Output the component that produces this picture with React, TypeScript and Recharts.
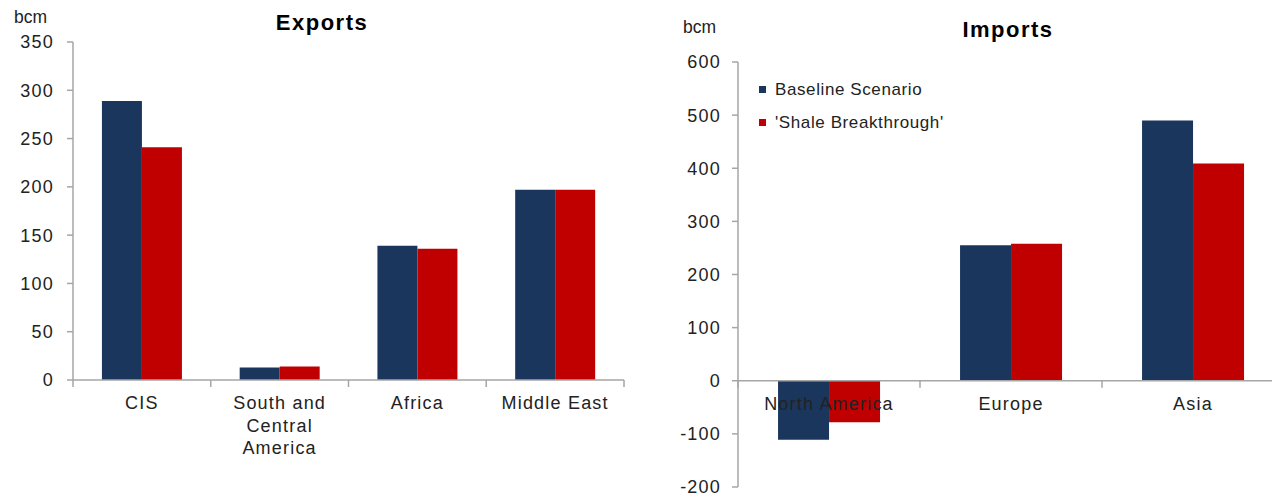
import { BarChart, Bar, XAxis, YAxis, Legend, ReferenceLine } from "recharts";

// Gas trade by region, bcm
const exportRegions = ["CIS", "South and\nCentral\nAmerica", "Africa", "Middle East"];
const exportBaseline = [289, 13, 139, 197];
const exportShale = [241, 14, 136, 197];
const exportTicks = [0, 50, 100, 150, 200, 250, 300, 350];

const importRegions = ["North America", "Europe", "Asia"];
const importBaseline = [-111, 255, 490];
const importShale = [-78, 258, 409];
const importTicks = [-200, -100, 0, 100, 200, 300, 400, 500, 600];

const seriesNames = ["Baseline Scenario", "'Shale Breakthrough'"];

const NAVY = "#1b365d";
const RED = "#c00000";
const AXIS = "#a6a6a6";
const INK = "#222";
const FONT = "'Liberation Sans', Arial, sans-serif";

const exportData = exportRegions.map((region, i) => ({
  region,
  baseline: exportBaseline[i],
  shale: exportShale[i],
}));

const importData = importRegions.map((region, i) => ({
  region,
  baseline: importBaseline[i],
  shale: importShale[i],
}));

const tickStyle = { fill: INK, fontSize: 18, fontFamily: FONT, letterSpacing: 1.2 };

// category label plus the small marks at band edges, hung from the zero line
function CategoryTick(props: any) {
  const { x, payload, index, axisY, band, count } = props;
  const lines = String(payload.value).split("\n");
  const left = x - band / 2;
  return (
    <g>
      <line x1={left} x2={left} y1={axisY} y2={axisY + 7} stroke={AXIS} strokeWidth={1.5} />
      {index === count - 1 && (
        <line x1={left + band} x2={left + band} y1={axisY} y2={axisY + 7} stroke={AXIS} strokeWidth={1.5} />
      )}
      <text x={x} y={axisY + 29} textAnchor="middle" {...tickStyle}>
        {lines.map((line, i) => (
          <tspan key={i} x={x} dy={i ? 22.5 : 0}>
            {line}
          </tspan>
        ))}
      </text>
    </g>
  );
}

function LegendBox({ payload }: any) {
  const items = [...(payload || [])].sort(
    (a: any, b: any) => seriesNames.indexOf(a.value) - seriesNames.indexOf(b.value)
  );
  return (
    <div style={{ fontFamily: FONT, fontSize: 17, color: INK, letterSpacing: 0.6 }}>
      {items.map((item: any) => (
        <div key={item.value} style={{ height: 33, display: "flex", alignItems: "center", whiteSpace: "nowrap" }}>
          <span style={{ width: 7, height: 7, background: item.color, marginRight: 9, display: "inline-block" }} />
          <span>{item.value}</span>
        </div>
      ))}
    </div>
  );
}

// left panel geometry
const EX = { w: 640, h: 494, top: 42, bottom: 54, right: 16, yAxisW: 73, xAxisH: 60 };
const exPlotBottom = EX.h - EX.bottom - EX.xAxisH;
const exBand = (EX.w - EX.yAxisW - EX.right) / exportRegions.length;

// right panel geometry (runs a little past the page edge)
const IM = { left: 640, w: 650, h: 494, top: 62, bottom: 6, right: 6, yAxisW: 98, xAxisH: 1 };
const imPlotH = IM.h - IM.top - IM.bottom - IM.xAxisH;
const imZeroY = IM.top + (imPlotH * 600) / 800;
const imBand = (IM.w - IM.yAxisW - IM.right) / importRegions.length;

export default function App() {
  return (
    <div style={{ position: "absolute", left: 0, top: 0, width: 1272, height: 494, overflow: "hidden", background: "#fff" }}>
      <div style={{ position: "absolute", left: 0, top: 0 }}>
        <BarChart
          width={EX.w}
          height={EX.h}
          data={exportData}
          margin={{ top: EX.top, right: EX.right, bottom: EX.bottom, left: 0 }}
          barCategoryGap="21%"
          barGap={0}
        >
          <XAxis
            dataKey="region"
            height={EX.xAxisH}
            interval={0}
            axisLine={{ stroke: AXIS, strokeWidth: 1.5 }}
            tickLine={false}
            tick={(p: any) => (
              <CategoryTick {...p} axisY={exPlotBottom} band={exBand} count={exportRegions.length} />
            )}
          />
          <YAxis
            width={EX.yAxisW}
            domain={[0, 350]}
            ticks={exportTicks}
            interval={0}
            tickSize={6}
            tickMargin={13}
            axisLine={{ stroke: AXIS, strokeWidth: 1.5 }}
            tickLine={{ stroke: AXIS, strokeWidth: 1.5 }}
            tick={tickStyle}
          />
          <Bar dataKey="baseline" name={seriesNames[0]} fill={NAVY} isAnimationActive={false} />
          <Bar dataKey="shale" name={seriesNames[1]} fill={RED} isAnimationActive={false} />
        </BarChart>
      </div>

      <div style={{ position: "absolute", left: IM.left, top: 0 }}>
        <BarChart
          width={IM.w}
          height={IM.h}
          data={importData}
          margin={{ top: IM.top, right: IM.right, bottom: IM.bottom, left: 0 }}
          barCategoryGap="22%"
          barGap={0}
        >
          <XAxis
            dataKey="region"
            height={IM.xAxisH}
            interval={0}
            axisLine={false}
            tickLine={false}
            tick={(p: any) => (
              <CategoryTick {...p} axisY={imZeroY} band={imBand} count={importRegions.length} />
            )}
          />
          <YAxis
            width={IM.yAxisW}
            domain={[-200, 600]}
            ticks={importTicks}
            interval={0}
            tickSize={6}
            tickMargin={11}
            axisLine={{ stroke: AXIS, strokeWidth: 1.5 }}
            tickLine={{ stroke: AXIS, strokeWidth: 1.5 }}
            tick={tickStyle}
          />
          <Legend
            layout="vertical"
            align="center"
            verticalAlign="middle"
            wrapperStyle={{ left: 119, top: 73, width: "auto", height: "auto" }}
            content={LegendBox}
          />
          <Bar dataKey="baseline" name={seriesNames[0]} fill={NAVY} isAnimationActive={false} />
          <Bar dataKey="shale" name={seriesNames[1]} fill={RED} isAnimationActive={false} />
          <ReferenceLine y={0} stroke={AXIS} strokeWidth={1.5} />
        </BarChart>
      </div>

      <svg width={1272} height={494} style={{ position: "absolute", left: 0, top: 0, pointerEvents: "none" }}>
        <text x={14} y={23} fontFamily={FONT} fontSize={17.5} fill={INK}>
          bcm
        </text>
        <text x={683} y={33} fontFamily={FONT} fontSize={17.5} fill={INK}>
          bcm
        </text>
        <text x={322} y={30} textAnchor="middle" fontFamily={FONT} fontSize={22} fontWeight="bold" letterSpacing={1.5} fill="#000">
          Exports
        </text>
        <text x={1008} y={37} textAnchor="middle" fontFamily={FONT} fontSize={22} fontWeight="bold" letterSpacing={1.5} fill="#000">
          Imports
        </text>
      </svg>
    </div>
  );
}
